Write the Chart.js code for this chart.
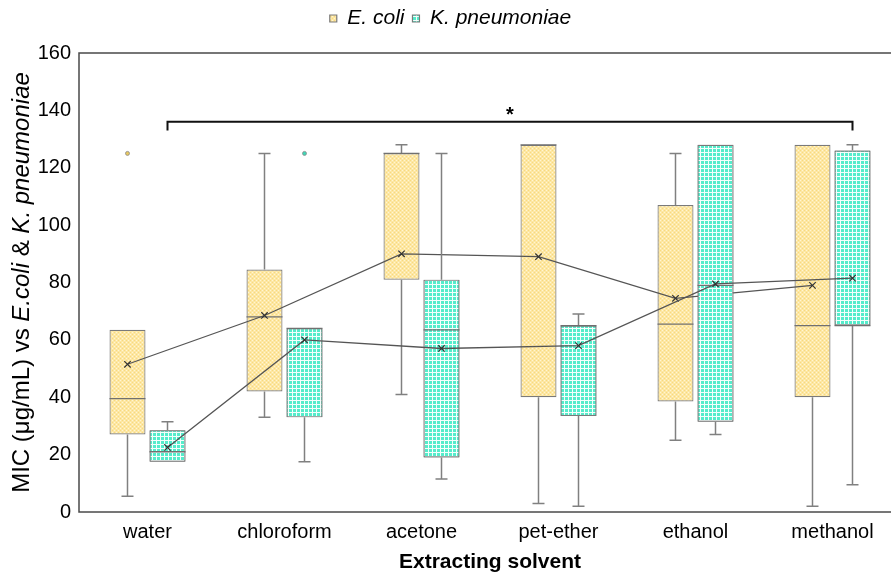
<!DOCTYPE html>
<html>
<head>
<meta charset="utf-8">
<script src="https://cdn.jsdelivr.net/npm/chart.js@4/dist/chart.umd.min.js"></script>
<style>
  html, body { margin: 0; padding: 0; background: #fff; overflow: hidden; }
  #wrap { width: 910px; height: 574px; }
</style>
</head>
<body>
<div id="wrap"><canvas id="grafico" width="910" height="574"></canvas></div>
<script>
// Dados (MIC, µg/mL)
const solventes = ['water', 'chloroform', 'acetone', 'pet-ether', 'ethanol', 'methanol'];

const ecoliMin     = [5.5, 33, 41, 3, 25, 2];
const ecoliQ1      = [27, 42, 81, 40, 38.5, 40];
const ecoliMediana = [39.5, 68, 125, 128, 65.5, 65];
const ecoliQ3      = [63.5, 84.5, 125, 128, 107, 128];
const ecoliMax     = [63.5, 125, 128, 128, 125, 128];
const ecoliMedia   = [51.5, 68.5, 90, 89, 74.5, 79];
const ecoliOutliers = [[125], [], [], [], [], []];

const kpMin     = [17.5, 17.5, 11.5, 2, 27, 9.5];
const kpQ1      = [17.5, 33, 19, 33.5, 31.5, 65];
const kpMediana = [21, 64, 63.5, 65, 79, 65];
const kpQ3      = [28.5, 64, 81, 65, 128, 126];
const kpMax     = [31.5, 64, 125, 69, 128, 128];
const kpMedia   = [22.5, 60, 57, 58, 79.5, 81.5];
const kpOutliers = [[], [125], [], [], [], []];

const yTicks = [0, 20, 40, 60, 80, 100, 120, 140, 160];
const sigValor = 136;

/**
 * Padrões de preenchimento (hachura fina)
 */
function padraoEcoli() {
  const c = document.createElement('canvas');
  c.width = 4; c.height = 4;
  const g = c.getContext('2d');
  g.fillStyle = '#fde7a3'; g.fillRect(0, 0, 4, 4);
  g.fillStyle = '#fff5d4'; g.fillRect(0, 0, 1, 1); g.fillRect(2, 2, 1, 1);
  g.fillStyle = '#f8d97f'; g.fillRect(2, 0, 1, 1); g.fillRect(0, 2, 1, 1);
  return g.createPattern(c, 'repeat');
}

function padraoKp() {
  const c = document.createElement('canvas');
  c.width = 4; c.height = 4;
  const g = c.getContext('2d');
  g.fillStyle = '#55eccb'; g.fillRect(0, 0, 4, 4);
  g.fillStyle = '#f4fffc'; g.fillRect(0, 0, 4, 1); g.fillRect(0, 0, 1, 4);
  return g.createPattern(c, 'repeat');
}

const FONTE = "'Liberation Sans', Arial, sans-serif";
const COR_BORDA = '#7a7a7a';

const series = [
  { min: ecoliMin, q1: ecoliQ1, med: ecoliMediana, q3: ecoliQ3, max: ecoliMax, media: ecoliMedia, out: ecoliOutliers, corOut: '#e8c860' },
  { min: kpMin, q1: kpQ1, med: kpMediana, q3: kpQ3, max: kpMax, media: kpMedia, out: kpOutliers, corOut: '#3fd6b6' }
];

function desenharBigodes(chart, idx) {
  const { ctx, scales: { y } } = chart;
  const s = series[idx];
  const meta = chart.getDatasetMeta(idx);
  ctx.save();
  meta.data.forEach((bar, i) => {
    const x = bar.x;
    const cap = 6;
    ctx.strokeStyle = '#808080';
    ctx.lineWidth = 1.5;
    ctx.beginPath();
    if (s.max[i] > s.q3[i]) {
      const yMax = y.getPixelForValue(s.max[i]);
      ctx.moveTo(x, y.getPixelForValue(s.q3[i])); ctx.lineTo(x, yMax);
      ctx.moveTo(x - cap, yMax); ctx.lineTo(x + cap, yMax);
    }
    if (s.min[i] < s.q1[i]) {
      const yMin = y.getPixelForValue(s.min[i]);
      ctx.moveTo(x, y.getPixelForValue(s.q1[i])); ctx.lineTo(x, yMin);
      ctx.moveTo(x - cap, yMin); ctx.lineTo(x + cap, yMin);
    }
    ctx.stroke();

    // mediana
    const half = bar.width / 2;
    ctx.strokeStyle = '#707070';
    ctx.lineWidth = 1.3;
    ctx.beginPath();
    ctx.moveTo(x - half, y.getPixelForValue(s.med[i]));
    ctx.lineTo(x + half, y.getPixelForValue(s.med[i]));
    ctx.stroke();

    // outliers
    s.out[i].forEach(v => {
      ctx.beginPath();
      ctx.arc(x, y.getPixelForValue(v), 2, 0, Math.PI * 2);
      ctx.fillStyle = s.corOut;
      ctx.fill();
      ctx.strokeStyle = '#8a8a8a';
      ctx.lineWidth = 0.8;
      ctx.stroke();
    });
  });
  ctx.restore();
}

function desenharMedias(chart, idx) {
  const { ctx, scales: { y } } = chart;
  const s = series[idx];
  const meta = chart.getDatasetMeta(idx);
  const pts = meta.data.map((bar, i) => ({ x: bar.x, y: y.getPixelForValue(s.media[i]) }));
  ctx.save();
  ctx.strokeStyle = '#555';
  ctx.lineWidth = 1.3;
  ctx.beginPath();
  pts.forEach((p, i) => (i === 0 ? ctx.moveTo(p.x, p.y) : ctx.lineTo(p.x, p.y)));
  ctx.stroke();
  ctx.strokeStyle = '#333';
  ctx.lineWidth = 1.2;
  pts.forEach(p => {
    const r = 3.2;
    ctx.beginPath();
    ctx.moveTo(p.x - r, p.y - r); ctx.lineTo(p.x + r, p.y + r);
    ctx.moveTo(p.x + r, p.y - r); ctx.lineTo(p.x - r, p.y + r);
    ctx.stroke();
  });
  ctx.restore();
}

// Espaço extra entre a legenda e a área do gráfico
const legendaEspaco = {
  id: 'legendaEspaco',
  beforeInit(chart) {
    const fitOriginal = chart.legend.fit;
    chart.legend.fit = function () {
      fitOriginal.bind(chart.legend)();
      this.height += 14;
    };
  }
};

const boxExtras = {
  id: 'boxExtras',
  afterDatasetsDraw(chart) {
    const { ctx, chartArea, scales: { y } } = chart;

    // E. coli: bigodes, mediana, linha de médias
    desenharBigodes(chart, 0);
    desenharMedias(chart, 0);

    // K. pneumoniae por cima (caixas redesenhadas)
    chart.getDatasetMeta(1).data.forEach(el => el.draw(ctx));
    desenharBigodes(chart, 1);
    desenharMedias(chart, 1);

    // moldura
    ctx.save();
    ctx.strokeStyle = '#4a4a4a';
    ctx.lineWidth = 1.5;
    ctx.strokeRect(chartArea.left, chartArea.top, chartArea.right - chartArea.left, chartArea.bottom - chartArea.top);

    // colchete de significância
    const kMeta = chart.getDatasetMeta(1).data;
    const x1 = kMeta[0].x;
    const x2 = kMeta[kMeta.length - 1].x;
    const yb = y.getPixelForValue(sigValor);
    const yt = y.getPixelForValue(sigValor - 3);
    ctx.strokeStyle = '#111';
    ctx.lineWidth = 2;
    ctx.beginPath();
    ctx.moveTo(x1, yt); ctx.lineTo(x1, yb); ctx.lineTo(x2, yb); ctx.lineTo(x2, yt);
    ctx.stroke();
    ctx.fillStyle = '#000';
    ctx.font = 'bold 20px ' + FONTE;
    ctx.textAlign = 'center';
    ctx.textBaseline = 'alphabetic';
    ctx.fillText('*', (x1 + x2) / 2, yb - 1);

    // título do eixo Y com itálico
    const partes = [
      ['MIC (μg/mL) vs ', 'normal'],
      ['E.coli', 'italic'],
      [' & ', 'normal'],
      ['K. pneumoniae', 'italic']
    ];
    const fonteY = st => `${st} 24px ${FONTE}`;
    let total = 0;
    partes.forEach(([t, st]) => { ctx.font = fonteY(st); total += ctx.measureText(t).width; });
    ctx.translate(22, (chartArea.top + chartArea.bottom) / 2);
    ctx.rotate(-Math.PI / 2);
    ctx.textAlign = 'left';
    ctx.textBaseline = 'middle';
    let px = -total / 2;
    partes.forEach(([t, st]) => {
      ctx.font = fonteY(st);
      ctx.fillText(t, px, 0);
      px += ctx.measureText(t).width;
    });
    ctx.restore();
  }
};

const ctx = document.getElementById('grafico').getContext('2d');

new Chart(ctx, {
  type: 'bar',
  data: {
    labels: solventes,
    datasets: [
      {
        label: 'E. coli',
        data: ecoliQ1.map((v, i) => [v, ecoliQ3[i]]),
        backgroundColor: padraoEcoli(),
        borderColor: COR_BORDA,
        borderWidth: 1.2,
        borderSkipped: false,
        categoryPercentage: 0.584,
        barPercentage: 0.9
      },
      {
        label: 'K. pneumoniae',
        data: kpQ1.map((v, i) => [v, kpQ3[i]]),
        backgroundColor: padraoKp(),
        borderColor: COR_BORDA,
        borderWidth: 1.2,
        borderSkipped: false,
        categoryPercentage: 0.584,
        barPercentage: 0.9
      }
    ]
  },
  options: {
    responsive: false,
    animation: false,
    layout: { padding: { left: 0, right: 9, top: 0, bottom: 0 } },
    plugins: {
      legend: {
        position: 'top',
        labels: {
          color: '#000',
          font: { size: 21, style: 'italic', family: FONTE },
          boxWidth: 7,
          boxHeight: 7,
          padding: 8
        }
      },
      tooltip: { enabled: false }
    },
    scales: {
      x: {
        grid: { display: false },
        border: { display: false },
        ticks: { color: '#000', font: { size: 20, family: FONTE }, padding: 0 },
        title: {
          display: true,
          text: 'Extracting solvent',
          color: '#000',
          font: { size: 21, weight: 'bold', family: FONTE, lineHeight: 1.1 },
          padding: { top: 4, bottom: 0 }
        },
        afterFit: scale => { scale.height = 62; }
      },
      y: {
        min: 0,
        max: 160,
        grid: { display: false },
        border: { display: false },
        afterBuildTicks: scale => { scale.ticks = yTicks.map(v => ({ value: v })); },
        ticks: { color: '#000', font: { size: 20, family: FONTE }, padding: 0 },
        afterFit: scale => { scale.width = 79; }
      }
    }
  },
  plugins: [legendaEspaco, boxExtras]
});
</script>
</body>
</html>
